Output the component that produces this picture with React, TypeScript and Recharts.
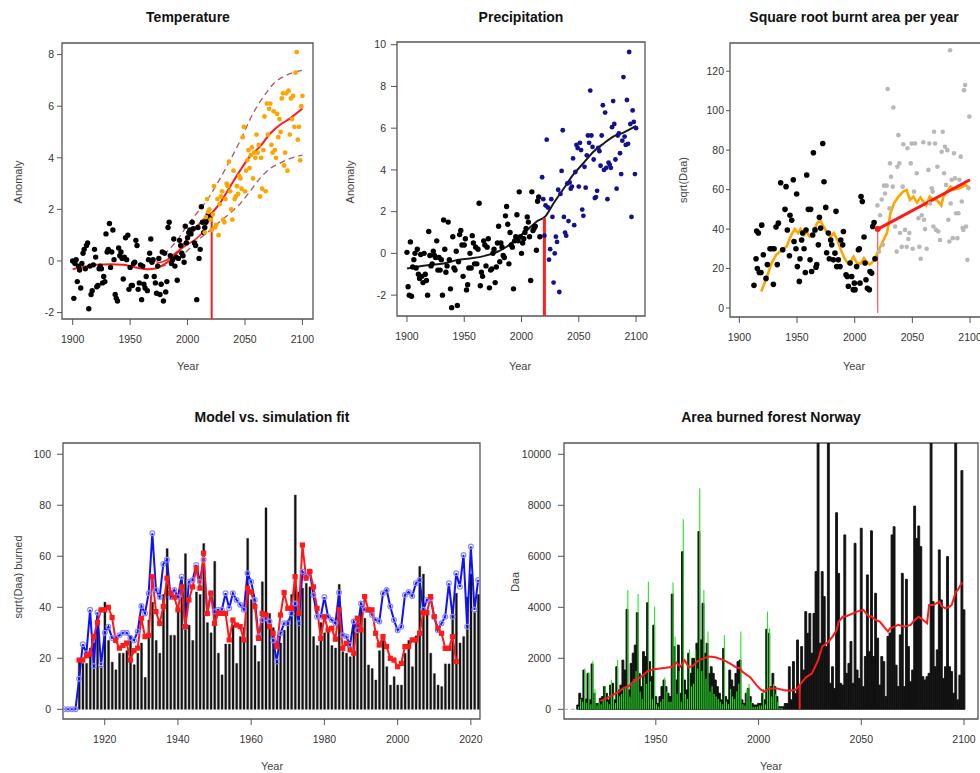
import React from 'react';
import { ComposedChart, XAxis, YAxis, Scatter, Line, Bar, ReferenceArea, ReferenceLine } from 'recharts';

const FONT = '"Liberation Sans", Arial, Helvetica, sans-serif';

// ---------- Panel 1: Temperature ----------
const tempHistStart = 1900;
const tempHist = [
  0.0, -1.45, -0.1, 0.05, -0.8, -0.2, -0.35, -1.05, -0.1, 0.3,
  0.45, -0.3, 0.6, 0.7, -1.85, -0.2, -1.3, -1.15, -0.15, 0.45,
  0.15, -1.0, -0.95, -0.3, -0.2, -0.3, -0.85, -0.6, -0.8, 1.05,
  0.35, 0.45, 1.45, -0.25, 0.35, 1.2, 0.05, -1.3, -1.45, -1.55,
  0.5, 0.2, 0.35, 0.1, -0.7, 0.15, 0.9, 0.05, 1.0, -1.1,
  -0.25, -0.95, -0.95, -0.1, -0.05, 0.8, 0.6, -1.1, -0.85, -0.15,
  -1.5, -0.2, -0.9, -1.05, -0.6, -1.15, 0.05, 0.3, 0.85, -0.05,
  0.05, -0.6, -0.85, -1.25, -0.2, 0.1, -1.3, -0.9, 0.35, -1.55,
  0.3, -1.2, -0.8, 1.3, 1.5, 0.2, -0.1, 0.05, 0.85, -0.2,
  0.15, -0.75, 0.1, 0.8, 0.6, 0.3, 0.2, -0.05, 1.35, 0.7,
  0.9, 1.1, 1.2, 1.05, 1.5, 1.25, 0.7, 0.6, -1.5, 1.3,
  0.1, 0.45, 2.1, 1.5, 1.1, 1.3, 1.5, 1.6, 1.8, 1.7,
];
const tempFutStart = 2015;
const tempFut = [
  1.1, 1.7, 2.4, 1.9, 2.0, 1.6, 1.2, 1.8, 2.9, 1.3,
  1.4, 2.4, 1.0, 2.2, 2.5, 2.7, 1.6, 1.5, 2.4, 3.0,
  2.9, 3.85, 2.7, 2.0, 1.6, 3.5, 2.4, 2.5, 2.9, 2.6,
  3.3, 3.2, 2.8, 4.8, 5.2, 2.7, 3.5, 3.9, 4.3, 3.6,
  4.1, 4.4, 3.2, 4.2, 4.0, 4.9, 4.2, 4.5, 2.5, 4.0,
  2.8, 4.3, 5.6, 2.7, 6.1, 4.9, 5.9, 6.1, 4.5, 4.2,
  5.8, 4.3, 4.0, 5.7, 4.8, 5.5, 5.0, 6.3, 6.5, 3.7,
  4.2, 6.5, 3.5, 6.6, 4.9, 6.3, 5.5, 6.4, 5.2, 7.3,
  8.1, 4.7, 5.2, 3.9, 6.0, 6.4,
];
const tempFitYears = [1900, 1910, 1921, 1933, 1944, 1956, 1965, 1973, 1979, 1985, 1991, 1999, 2008, 2015, 2021, 2028, 2037, 2046, 2054, 2063, 2072, 2080, 2089, 2100];
const tempFitVals = [-0.32, -0.22, -0.15, -0.13, -0.15, -0.26, -0.32, -0.28, -0.15, 0.04, 0.3, 0.81, 1.33, 1.65, 1.85, 2.23, 2.88, 3.52, 4.04, 4.43, 4.94, 5.26, 5.52, 5.91];
const tempFit2Years = [1973, 1982, 1991, 1999, 2008, 2014];
const tempFit2Vals = [-0.09, 0.04, 0.36, 0.62, 0.88, 1.14];
const tempUpperYears = [1973, 1982, 1991, 1999, 2008, 2017, 2025, 2034, 2046, 2057, 2066, 2075, 2086, 2100];
const tempUpperVals = [-0.03, 0.36, 0.81, 1.33, 1.85, 2.36, 2.94, 3.65, 4.68, 5.72, 6.36, 6.88, 7.2, 7.39];
const tempLowerYears = [1976, 1985, 1994, 2002, 2011, 2020, 2028, 2037, 2046, 2054, 2063, 2072, 2080, 2089, 2100];
const tempLowerVals = [-0.22, -0.09, 0.17, 0.49, 0.88, 1.2, 1.52, 1.85, 2.23, 2.68, 3.2, 3.59, 3.78, 3.97, 4.1];
const tempSplitYear = 2021;
const tempSplitTop = 1.8;

// ---------- Panel 2: Precipitation ----------
const precHistStart = 1900;
const precHist = [
  0.05, -1.6, -2.0, 0.55, -2.05, -0.65, -0.3, 0.0, -0.7, 0.2,
  -1.0, -1.2, -0.05, -1.1, -1.4, 0.0, -1.0, -1.3, -2.0, 1.05,
  -0.1, -0.6, -0.5, 0.1, -0.1, -0.2, 0.6, -0.8, -0.2, -0.8,
  -0.3, -2.0, 1.6, 0.2, -0.9, -0.6, 1.5, -0.3, -1.7, -2.6,
  0.8, -0.7, -0.8, 0.1, -2.5, -0.4, 0.9, 1.1, 0.4, -1.1,
  0.4, 0.7, -1.75, -1.5, -0.7, 0.0, -0.7, 0.85, 0.5, -0.5,
  0.3, -0.5, 0.2, 2.4, -1.55, -0.9, -1.1, 0.6, 0.4, -0.6,
  0.3, 0.7, -1.65, -0.8, -0.75, 0.0, 0.2, -1.4, -0.65, 0.5,
  1.3, -0.4, 0.5, 0.3, -0.1, -0.2, 1.8, 2.25, 1.4, -0.5,
  1.0, 0.4, 0.3, -1.7, 0.6, 0.8, 1.85, 0.6, 2.95, 0.8,
  0.0, 0.5, 0.7, 1.0, 1.2, 1.75, 1.5, 0.8, -1.3, 2.95,
  1.1, 1.2, 1.3, 0.15, 2.5, 2.7, 0.8,
];
const precFutStart = 2018;
const precFut = [
  3.65, 2.6, 0.85, 2.3, 5.45, 2.2, -0.3, 0.2, 2.6, 1.75,
  -1.4, 0.0, 0.8, 0.55, 3.05, -1.85, 2.85, 3.95, 5.9, 1.75,
  1.0, 0.85, 3.35, 1.55, 3.4, 3.1, 3.2, 4.55, 1.35, 3.9,
  5.2, 5.05, 3.2, 5.3, 4.95, 2.1, 1.8, 4.15, 3.15, 4.7,
  5.65, 5.3, 7.8, 5.65, 5.1, 4.5, 2.65, 2.7, 3.0, 5.05,
  4.9, 4.2, 5.65, 7.1, 4.0, 6.75, 4.1, 2.6, 4.35, 4.25,
  4.1, 6.05, 7.3, 6.2, 4.5, 3.1, 5.65, 5.75, 4.8, 3.8,
  5.4, 8.45, 5.6, 5.2, 7.35, 5.25, 9.65, 6.2, 1.75, 6.85,
  6.3, 3.8, 6.0,
];
const precFitYears = [1900, 1909, 1920, 1932, 1944, 1955, 1967, 1979, 1987, 1996, 2005, 2013, 2021, 2028, 2037, 2045, 2054, 2063, 2072, 2080, 2089, 2100];
const precFitVals = [-0.72, -0.64, -0.56, -0.48, -0.32, -0.24, -0.13, 0.08, 0.32, 0.72, 1.12, 1.52, 1.79, 2.4, 3.12, 3.76, 4.32, 4.88, 5.28, 5.6, 5.79, 6.11];
const precSplitYear = 2020;
const precSplitTop = 1.7;

// ---------- Panel 3: Square root burnt area ----------
const sqrtHistYears = [
  1912.7, 1914.5, 1915.0, 1916.5, 1915.6, 1917.3, 1918.8, 1919.4, 1920.8, 1923.1,
  1924.3, 1926.6, 1928.0, 1929.5, 1930.1, 1931.8, 1932.9, 1933.8, 1935.8, 1937.6,
  1939.6, 1940.5, 1941.6, 1943.4, 1943.9, 1945.4, 1946.8, 1947.4, 1949.1, 1949.7,
  1950.3, 1952.0, 1952.6, 1954.0, 1954.9, 1956.1, 1957.2, 1957.8, 1958.4, 1959.8,
  1961.3, 1961.8, 1962.7, 1963.6, 1964.2, 1965.6, 1966.5, 1967.1, 1968.5, 1969.4,
  1970.5, 1972.3, 1973.4, 1974.9, 1975.7, 1977.2, 1978.0, 1979.2, 1980.1, 1981.5,
  1982.9, 1983.8, 1984.4, 1985.8, 1987.3, 1987.9, 1989.6, 1990.2, 1992.5, 1993.6,
  1994.5, 1996.0, 1997.4, 1998.8, 1999.7, 2000.3, 2001.7, 2003.2, 2004.0, 2004.6,
  2005.5, 2006.6, 2008.1, 2009.0, 2009.8, 2011.0, 2012.7, 2013.3, 2014.7, 2015.6,
  2016.8, 2017.6,
];
const sqrtHistVals = [
  11.5, 25, 39, 38, 20, 18, 18, 42, 27, 15,
  22, 30, 30, 12, 30, 41, 22, 43, 63.5, 29.5,
  50, 61.5, 39.5, 26.5, 47, 44.5, 65, 33.7, 30, 57.8,
  21, 13.5, 25, 34.5, 38, 30, 18, 39.5, 67.4, 50,
  24.4, 50, 18.5, 37, 78.7, 39.6, 20.7, 22, 32, 46,
  40.5, 83.4, 64, 51, 28, 38, 25, 34.5, 32, 24.4,
  27.8, 49, 21, 24.4, 21, 34.5, 32, 38.8, 16.8, 16,
  11, 22.8, 16, 9.3, 12.6, 9.3, 21, 29.5, 30, 12.6,
  56.5, 54, 36, 22.8, 14.3, 10, 9.3, 18.5, 17.7, 41.3,
  43.3, 25,
];
const sqrtFutYears = [
  2019.7, 2021.1, 2022.0, 2023.4, 2024.3, 2025.4, 2026.3, 2027.7, 2028.6, 2030.1,
  2030.6, 2031.5, 2033.0, 2033.5, 2035.0, 2036.4, 2037.0, 2037.9, 2038.7, 2039.3,
  2040.8, 2041.6, 2042.2, 2043.6, 2045.1, 2045.7, 2046.5, 2047.4, 2048.6, 2049.4,
  2050.3, 2051.4, 2052.3, 2053.8, 2055.2, 2056.1, 2057.2, 2058.1, 2059.5, 2060.1,
  2061.0, 2062.4, 2063.9, 2064.7, 2065.3, 2066.8, 2067.6, 2068.2, 2068.8, 2069.7,
  2070.5, 2071.7, 2072.5, 2074.0, 2075.4, 2076.3, 2077.5, 2078.3, 2079.2, 2080.3,
  2081.2, 2082.1, 2082.7, 2083.2, 2084.1, 2085.0, 2086.1, 2087.0, 2087.9, 2089.0,
  2089.9, 2090.8, 2091.9, 2092.8, 2093.6, 2094.2, 2094.8, 2095.7, 2096.5, 2097.7,
  2098.6, 2099.4,
];
const sqrtFutVals = [
  52, 28.6, 47, 55, 32, 62, 58, 62, 111, 50.5,
  73.3, 66.5, 61.5, 101.6, 41.3, 28.6, 71.6, 87.6, 73.3, 38,
  31, 61.5, 83, 39.6, 31, 81, 35, 38, 73.3, 83.4,
  30, 59, 83.4, 68.3, 45.5, 31, 25, 47, 84, 44.7,
  40, 30, 70, 83.4, 53, 60.7, 59, 41.3, 89.3, 83.4,
  39.6, 71.6, 38.8, 34.5, 79.2, 89.3, 68.3, 81.7, 62.4, 80,
  44.7, 33.7, 130.6, 53, 65, 35.4, 78.4, 65.7, 48, 35.4,
  48, 65, 76.7, 54, 40.5, 39.6, 110.4, 113, 41.3, 24.4,
  60.7, 97,
];
const sqrtMaYears = [1919, 1924, 1928, 1932, 1937, 1941, 1945, 1948, 1951, 1953, 1956, 1958, 1961, 1964, 1967, 1970, 1973, 1976, 1979, 1982, 1985, 1988, 1991, 1994, 1997, 1999, 2002, 2005, 2008, 2010, 2013, 2016, 2018, 2021, 2025, 2028, 2031, 2034, 2038, 2042, 2045, 2048, 2051, 2054, 2057, 2062, 2065, 2068, 2071, 2075, 2077, 2080, 2083, 2086, 2091, 2096, 2100];
const sqrtMaVals = [8.4, 16, 22.8, 27, 29.5, 31.2, 37, 40, 38, 40, 37, 38.8, 36.2, 38, 42.6, 44.7, 41.3, 38.3, 36, 38, 34.5, 29.5, 25.3, 22.8, 24, 26, 22.8, 22.4, 25.3, 23.6, 22, 23.6, 26, 29.5, 34.5, 38, 48, 53, 56.5, 59, 59.8, 54.8, 56.5, 53.4, 56, 52, 56.5, 54.8, 54.8, 52, 56.5, 59, 61.5, 60, 60.7, 62.4, 60.7];
const sqrtTrendYears = [2020, 2100];
const sqrtTrendVals = [40, 65];
const sqrtSplitBottom = -2.5;

// ---------- Panel 4: Model vs simulation ----------
const modelStart = 1909;
const modelEnd = 2022;
const obsStart = 1913;
const obsVals = [
  19, 18, 18, 24, 26, 34, 17, 42, 27, 18.5,
  15.5, 22, 22, 23, 29, 17.5, 22, 26, 12.5, 35,
  42, 27, 22, 45, 63, 29, 29, 39, 44, 61,
  33, 27, 46, 45, 65, 34, 30, 58, 22, 13.5,
  25.6, 25.6, 33, 18, 28.5, 32, 67, 43, 25, 18.7,
  50, 79, 37.6, 32, 19, 26, 31, 35, 45, 84,
  46, 47.5, 49.4, 48, 28.5, 25, 34, 30, 30.5, 25,
  24, 49, 22.6, 22, 20.6, 34, 32, 39.6, 35.7, 17.4,
  16, 11.5, 23, 27, 16.7, 9.5, 12.8, 9.5, 9.5, 22,
  27, 16.7, 28.8, 56, 53, 37, 22, 14, 9.5, 8.9,
  17.8, 17.8, 37.6, 45.5, 26, 28.5, 44, 53, 38.3, 45,
];
const simBlueStart = 1909;
const simBlue = [
  0, 0, 0, 0,
  12, 25.5, 22, 39, 17, 38, 17.4, 30, 32.4, 28,
  28, 29, 30, 30, 28, 27, 30.5, 40.5, 37.6, 45.5,
  69, 46.8, 44, 57, 58.6, 44, 46.8, 44, 52, 32.4,
  50, 50.7, 56.6, 50, 58.6, 37.6, 45.5, 38.3, 39, 39,
  45.5, 39.6, 45.5, 42.9, 41, 39, 53.3,
  50, 42.9, 28.5, 35, 35.7, 34.4, 27, 18.7, 29.8, 33.7,
  33.7, 37.6, 41.5, 33.7, 54, 52, 54, 44.8, 36.3, 36.3,
  44, 36.3, 35, 33.7, 45.8, 29, 28.5, 25.2, 34.4, 31,
  41.5, 39, 39, 37, 35, 34.4, 45.5, 46.8, 40.3, 35,
  31, 32.4, 44.8, 46, 44.4, 49.4, 50.7, 39, 42.9, 43.5,
  36.3, 31, 33.7, 36.3, 49.4, 36.3, 53.3, 48, 60.5, 32.4,
  63.8, 39, 50.7,
];
const simRedStart = 1913;
const simRed = [
  19.3, 19.3, 21, 21.6, 28.5, 34, 39, 39, 40, 36,
  27, 24, 25, 26, 19.3, 23, 24, 35.7, 28.5, 29,
  52, 38.3, 33.7, 40.3, 51.4, 45.5, 44, 39, 48, 32.4,
  42.9, 48, 55.3, 47.5, 61.2, 37.6, 45.5, 33.7, 37.6, 37.6,
  37.6, 27.2, 35, 33, 32.4, 27.2, 47.5, 46, 40.3, 27.8,
  37.6, 37, 32.4, 29.8, 24.6, 37, 45.8, 39.6, 39.6, 52,
  37.6, 64.4, 51.4, 54, 48, 39.6, 27.8, 36.3, 31.1, 31.8,
  27.5, 39, 23.9, 25.9, 23.3, 22, 35.7, 31.1, 44.2, 39,
  39, 29.8, 25.2, 28.5, 24.6, 20, 19.3, 16.7, 18, 24.6,
  24.6, 27.2, 27.2, 29.8, 37.9, 37.9, 44.2, 36.3, 31.8, 29.8,
  23.9, 23.9, 28.5, 18.7,
];

// ---------- Panel 5: Area burned forest Norway ----------
const burnStart = 1912;
const burnEnd = 2100;
const burnHist = [
  170, 630, 430, 1540, 400, 1410, 370, 1780, 630, 230,
  230, 430, 500, 890, 630, 370, 950, 1020, 370, 1670,
  760, 950, 1930, 1540, 3920, 760, 1800, 2200, 2520, 3790,
  1410, 890, 2260, 2070, 4180, 1870, 1280, 3300, 500, 230,
  500, 890, 1150, 890, 630, 500, 4520, 2460, 1150, 2520,
  630, 6180, 1150, 760, 2200, 1410, 2000, 2000, 2590, 6970,
  2720, 4160, 2200, 2590, 1410, 1670, 1410, 1150, 890, 630,
  370, 2390, 500, 370, 1540, 1150, 890, 1410, 1870, 1930,
  370, 230, 630, 820, 500, 230, 170, 170, 230, 230,
  630, 370, 3140, 2980, 890, 1410, 890, 500, 100, 100,
  100, 230, 230, 1670, 370, 1870, 630, 2720,
];
const burnFuture = [
  630, 2460, 1540, 3830, 2980, 3760, 2200, 3760, 5400, 12000,
  2590, 5400, 4420, 2460, 12000, 1020, 1670, 820, 7710, 5330,
  1020, 950, 6840, 1410, 1800, 2660, 1020, 6510, 1540, 1210,
  7100, 890, 2070, 5270, 2260, 7000, 2070, 4550, 2790, 950,
  2070, 1870, 500, 2860, 2990, 6840, 7160, 1730, 890, 2920,
  5330, 890, 5100, 2460, 1080, 1540, 7970, 6700, 7190, 6380,
  1280, 1150, 1280, 1410, 12000, 4220, 1670, 2330, 6250, 4290,
  1210, 1670, 5990, 1670, 1480, 630, 12000, 370, 1340, 9360,
  3900,
];
const burnGreen = [
  100, 400, 300, 1600, 250, 1450, 200, 1900, 800, 150,
  300, 200, 350, 900, 300, 200, 1150, 600, 250, 1930,
  500, 600, 800, 900, 4680, 500, 1000, 1200, 1500, 4520,
  700, 400, 1300, 1000, 5000, 1100, 400, 4030, 200, 100,
  300, 400, 1250, 700, 300, 300, 4970, 2850, 600, 1500,
  300, 7450, 600, 400, 2350, 900, 1000, 2330, 1600, 8670,
  1500, 4680, 1200, 3050, 700, 900, 600, 500, 400, 300,
  200, 2900, 300, 200, 800, 500, 400, 700, 1000, 3050,
  200, 150, 800, 1000, 300, 100, 100, 100, 150, 150,
  800, 200, 3830, 3180, 500, 1000, 600, 300, 50, 50,
];
const burnMaYears = [1923, 1926, 1929, 1932, 1934, 1937, 1939, 1941, 1944, 1946, 1949, 1952, 1955, 1958, 1960, 1962, 1964, 1966, 1968, 1970, 1973, 1976, 1979, 1983, 1986, 1989, 1991, 1992, 1996, 1999, 2001, 2003, 2005, 2009, 2012, 2015, 2018, 2020, 2023, 2026, 2029, 2031, 2034, 2036, 2038, 2039, 2041, 2043, 2046, 2048, 2051, 2053, 2054, 2055, 2057, 2059, 2061, 2063, 2064, 2066, 2068, 2071, 2074, 2076, 2078, 2081, 2082, 2083, 2085, 2088, 2089, 2091, 2093, 2094, 2096, 2097, 2099];
const burnMaVals = [330, 430, 560, 690, 820, 915, 1085, 1180, 1350, 1500, 1570, 1600, 1630, 1670, 1830, 1670, 1930, 1650, 1700, 1870, 2000, 2070, 2040, 1930, 1800, 1650, 1610, 1480, 1250, 950, 780, 690, 820, 820, 760, 730, 760, 950, 1250, 1410, 1930, 2460, 2650, 2850, 3110, 3440, 3630, 3660, 3760, 3830, 3900, 3700, 3630, 3650, 3500, 3440, 3240, 3050, 3180, 3240, 3310, 3240, 3310, 3500, 3630, 3440, 3370, 4090, 4090, 4220, 4050, 3960, 4030, 4090, 4610, 4680, 4970];
const burnSplitYear = 2020;
const burnSplitTop = 950;

// ---------- ticks ----------
const yearTicks = [1900, 1950, 2000, 2050, 2100];
const tempTicks = [-2, 0, 2, 4, 6, 8];
const precTicks = [-2, 0, 2, 4, 6, 8, 10];
const sqrtTicks = [0, 20, 40, 60, 80, 100, 120];
const modelXTicks = [1920, 1940, 1960, 1980, 2000, 2020];
const modelYTicks = [0, 20, 40, 60, 80, 100];
const burnXTicks = [1950, 2000, 2050, 2100];
const burnYTicks = [0, 2000, 4000, 6000, 8000, 10000];

// ---------- derived tables ----------
const seq = (start: number, vals: number[]) => vals.map((v, i) => ({ x: start + i, y: v }));
const zip = (xs: number[], ys: number[]) => xs.map((x, i) => ({ x, y: ys[i] }));

const modelRows: any[] = [];
for (let yr = modelStart; yr <= modelEnd; yr++) {
  const o = obsVals[yr - obsStart];
  const b = simBlue[yr - simBlueStart];
  const r = simRed[yr - simRedStart];
  modelRows.push({ x: yr, obs: o === undefined ? null : o, blue: b === undefined ? null : b, red: r === undefined ? null : r });
}
const burnAll = [...burnHist, ...burnFuture];
const burnRows: any[] = [];
for (let yr = burnStart; yr <= burnEnd; yr++) {
  const i = yr - burnStart;
  const mi = burnMaYears.indexOf(yr);
  burnRows.push({
    x: yr,
    black: burnAll[i] ?? null,
    green: i < burnGreen.length ? burnGreen[i] : null,
    ma: mi >= 0 ? burnMaVals[mi] : null,
  });
}

// ---------- layout ----------
type Box = { left: number; top: number; width: number; height: number };
const L = 60, T = 10, R = 12, B = 40;
const P1: Box = { left: 62, top: 43, width: 251, height: 276 };
const P2: Box = { left: 397, top: 42, width: 248, height: 274 };
const P3: Box = { left: 730, top: 43, width: 251, height: 274 };
const P4: Box = { left: 63, top: 443, width: 417, height: 276 };
const P5: Box = { left: 564, top: 443, width: 414, height: 276 };
const P1x: [number, number] = [1890.7, 2109.2];
const P1y: [number, number] = [-2.25, 8.45];
const P2x: [number, number] = [1891.3, 2107.8];
const P2y: [number, number] = [-3.0, 10.13];
const P3x: [number, number] = [1891.9, 2109.5];
const P3y: [number, number] = [-4.55, 134.3];
const P4x: [number, number] = [1908.6, 2022.5];
const P4y: [number, number] = [-3.8, 104.4];
const P5x: [number, number] = [1905.3, 2106.8];
const P5y: [number, number] = [-380, 10443];
const greenShift = 0.6; // visual offset (years) of the green bars to the right of the black ones
const P5xGreen: [number, number] = [P5x[0] - greenShift, P5x[1] - greenShift];

const pos = (b: Box): React.CSSProperties => ({ position: 'absolute', left: b.left - L, top: b.top - T });
const W = (b: Box) => b.width + L + R;
const H = (b: Box) => b.height + T + B;
const MARGIN = { top: T, right: R, bottom: 0, left: 0 };

const tickStyle = { fontSize: 10.5, fill: '#333', fontFamily: FONT };

function frame(xd: [number, number], yd: [number, number], xt: number[], yt: number[], ys: number, ym: number, keyed: boolean) {
  const yProps: any = keyed ? { dataKey: 'y' } : {};
  return [
    <XAxis key="xa" type="number" dataKey="x" domain={xd} allowDataOverflow ticks={xt} interval={0} height={B}
      tickSize={6} tickMargin={11} axisLine={false} tickLine={{ stroke: '#555' }} tick={tickStyle} />,
    <YAxis key="ya" type="number" {...yProps} domain={yd} allowDataOverflow ticks={yt} interval={0} width={L}
      tickSize={ys} tickMargin={ym} axisLine={false} tickLine={{ stroke: '#555' }} tick={tickStyle} />,
    <ReferenceArea key="box" x1={xd[0]} x2={xd[1]} y1={yd[0]} y2={yd[1]} fill="none" stroke="#555" strokeWidth={1.3} ifOverflow="visible" />,
  ];
}

const circle = (fill: string, r: number) => (p: any) =>
  p.cx == null || p.cy == null ? <g /> : <circle cx={p.cx} cy={p.cy} r={r} fill={fill} />;

const square = (p: any) =>
  p.cx == null || p.cy == null || p.value == null
    ? <g key={`sq-${p.index}`} />
    : <rect key={`sq-${p.index}`} x={p.cx - 2.6} y={p.cy - 2.6} width={5.2} height={5.2} fill="#ff1a1a" />;

const txt: React.CSSProperties = { position: 'absolute', fontFamily: FONT, whiteSpace: 'nowrap', lineHeight: 1 };
const Title = ({ x, y, t }: { x: number; y: number; t: string }) => (
  <div style={{ ...txt, left: x, top: y, transform: 'translate(-50%,-50%)', fontSize: 14, fontWeight: 'bold', color: '#111' }}>{t}</div>
);
const XT = ({ x, y, t }: { x: number; y: number; t: string }) => (
  <div style={{ ...txt, left: x, top: y, transform: 'translate(-50%,-50%)', fontSize: 11, color: '#444' }}>{t}</div>
);
const YT = ({ x, y, t }: { x: number; y: number; t: string }) => (
  <div style={{ ...txt, left: x, top: y, transform: 'translate(-50%,-50%) rotate(-90deg)', fontSize: 11, color: '#444' }}>{t}</div>
);

export default function App() {
  return (
    <div style={{ position: 'absolute', left: 0, top: 0, width: 980, height: 773, overflow: 'hidden', background: '#fff' }}>
      {/* Panel 1 */}
      <div style={pos(P1)}>
        <ComposedChart width={W(P1)} height={H(P1)} margin={MARGIN}>
          {frame(P1x, P1y, yearTicks, tempTicks, 5, 3, true)}
          <Scatter data={seq(tempHistStart, tempHist)} shape={circle('#000', 2.7)} isAnimationActive={false} />
          <Scatter data={seq(tempFutStart, tempFut)} shape={circle('#ffa500', 2.4)} isAnimationActive={false} />
          <Line data={zip(tempUpperYears, tempUpperVals)} dataKey="y" type="monotone" stroke="#a85a60" strokeWidth={1.3} strokeDasharray="6 4" dot={false} activeDot={false} isAnimationActive={false} />
          <Line data={zip(tempLowerYears, tempLowerVals)} dataKey="y" type="monotone" stroke="#a85a60" strokeWidth={1.3} strokeDasharray="6 4" dot={false} activeDot={false} isAnimationActive={false} />
          <Line data={zip(tempFit2Years, tempFit2Vals)} dataKey="y" type="monotone" stroke="#ff2020" strokeWidth={1.6} dot={false} activeDot={false} isAnimationActive={false} />
          <Line data={zip(tempFitYears, tempFitVals)} dataKey="y" type="monotone" stroke="#ff1a1a" strokeWidth={2} dot={false} activeDot={false} isAnimationActive={false} />
          <ReferenceLine segment={[{ x: tempSplitYear, y: tempSplitTop }, { x: tempSplitYear, y: P1y[0] }]} stroke="#ff1a1a" strokeWidth={2} ifOverflow="visible" />
        </ComposedChart>
      </div>
      {/* Panel 2 */}
      <div style={pos(P2)}>
        <ComposedChart width={W(P2)} height={H(P2)} margin={MARGIN}>
          {frame(P2x, P2y, yearTicks, precTicks, 6, 5, true)}
          <Scatter data={seq(precHistStart, precHist)} shape={circle('#000', 2.7)} isAnimationActive={false} />
          <Scatter data={seq(precFutStart, precFut)} shape={circle('#12128f', 2.4)} isAnimationActive={false} />
          <Line data={zip(precFitYears, precFitVals)} dataKey="y" type="monotone" stroke="#1a1a1a" strokeWidth={2} dot={false} activeDot={false} isAnimationActive={false} />
          <ReferenceLine segment={[{ x: precSplitYear, y: precSplitTop }, { x: precSplitYear, y: P2y[0] }]} stroke="#ff2020" strokeWidth={3} ifOverflow="visible" />
        </ComposedChart>
      </div>
      {/* Panel 3 */}
      <div style={pos(P3)}>
        <ComposedChart width={W(P3)} height={H(P3)} margin={MARGIN}>
          {frame(P3x, P3y, yearTicks, sqrtTicks, 4, 2, true)}
          <Scatter data={zip(sqrtHistYears, sqrtHistVals)} shape={circle('#000', 2.8)} isAnimationActive={false} />
          <Scatter data={zip(sqrtFutYears, sqrtFutVals)} shape={circle('#b8b8b8', 2.3)} isAnimationActive={false} />
          <ReferenceLine segment={[{ x: sqrtTrendYears[0], y: sqrtTrendVals[0] }, { x: sqrtTrendYears[0], y: sqrtSplitBottom }]} stroke="#ff3030" strokeWidth={1} ifOverflow="visible" />
          <Line data={zip(sqrtMaYears, sqrtMaVals)} dataKey="y" type="linear" stroke="#ffa500" strokeWidth={2.6} dot={false} activeDot={false} isAnimationActive={false} />
          <Line data={zip(sqrtTrendYears, sqrtTrendVals)} dataKey="y" type="linear" stroke="#ff1a1a" strokeWidth={3} dot={false} activeDot={false} isAnimationActive={false} />
          <Scatter data={zip(sqrtTrendYears.slice(0, 1), sqrtTrendVals.slice(0, 1))} shape={circle('#ff1a1a', 3)} isAnimationActive={false} />
        </ComposedChart>
      </div>
      {/* Panel 4 */}
      <div style={pos(P4)}>
        <ComposedChart width={W(P4)} height={H(P4)} margin={MARGIN} data={modelRows}>
          {frame(P4x, P4y, modelXTicks, modelYTicks, 6, 6, false)}
          <Bar dataKey="obs" fill="#111" stroke="#222" strokeWidth={0.4} barSize={2} isAnimationActive={false} />
          <Line dataKey="blue" type="linear" stroke="#1010ff" strokeWidth={2} dot={{ r: 2.4, stroke: '#8a8aff', strokeWidth: 1.2, fill: 'none' }} activeDot={false} isAnimationActive={false} />
          <Line dataKey="red" type="linear" stroke="#ff1a1a" strokeWidth={2} dot={square} activeDot={false} isAnimationActive={false} />
        </ComposedChart>
      </div>
      {/* Panel 5 */}
      <div style={pos(P5)}>
        <ComposedChart width={W(P5)} height={H(P5)} margin={MARGIN} data={burnRows}>
          {frame(P5x, P5y, burnXTicks, burnYTicks, 6, 7, false)}
          <XAxis xAxisId="g" type="number" dataKey="x" domain={P5xGreen} allowDataOverflow hide />
          <Bar dataKey="black" fill="#111" stroke="#111" strokeWidth={0.9} barSize={1.9} isAnimationActive={false} />
          <Bar xAxisId="g" dataKey="green" fill="#22e622" barSize={1.1} isAnimationActive={false} />
          <ReferenceLine segment={[{ x: P5x[0], y: 0 }, { x: burnStart, y: 0 }]} stroke="#aaa" strokeDasharray="4 3" ifOverflow="visible" />
          <Line dataKey="ma" type="linear" connectNulls stroke="#ff1a1a" strokeWidth={2} dot={false} activeDot={false} isAnimationActive={false} />
          <ReferenceLine segment={[{ x: burnSplitYear, y: 0 }, { x: burnSplitYear, y: burnSplitTop }]} stroke="#ff1a1a" strokeWidth={2} ifOverflow="visible" />
        </ComposedChart>
      </div>

      <Title x={188} y={17} t="Temperature" />
      <Title x={521} y={17} t="Precipitation" />
      <Title x={854} y={17} t="Square root burnt area per year" />
      <Title x={272} y={417} t="Model vs. simulation fit" />
      <Title x={771} y={417} t="Area burned forest Norway" />

      <XT x={188} y={366} t="Year" />
      <XT x={520} y={366} t="Year" />
      <XT x={854} y={366} t="Year" />
      <XT x={272} y={766} t="Year" />
      <XT x={771} y={766} t="Year" />

      <YT x={18} y={182} t="Anomaly" />
      <YT x={350} y={182} t="Anomaly" />
      <YT x={683} y={180} t="sqrt(Daa)" />
      <YT x={18} y={577} t="sqrt(Daa) burned" />
      <YT x={515} y={582} t="Daa" />
    </div>
  );
}
